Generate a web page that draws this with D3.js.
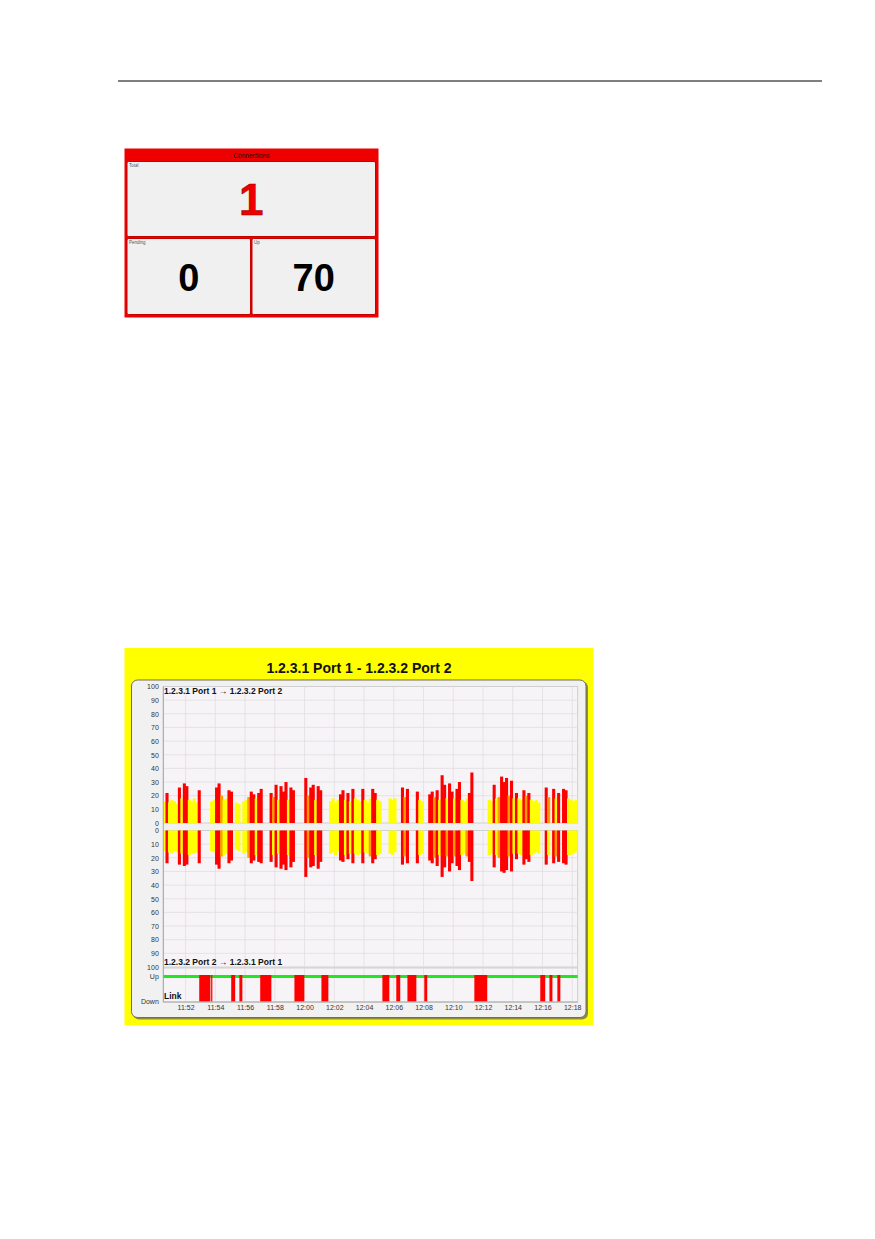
<!DOCTYPE html>
<html>
<head>
<meta charset="utf-8">
<script src="https://cdn.jsdelivr.net/npm/d3@7"></script>
<style>
  body { margin: 0; background: #fff; }
  svg { display: block; font-family: Arial, "Liberation Sans", sans-serif; }
</style>
</head>
<body>
<div id="page"></div>
<script>
// connection counters
var counterNames = ["Total", "Pending", "Up"];
var counterValues = [1, 0, 70];

// traffic samples, one every 10 s starting at 11:50:30 (percent of link capacity)
var sampleStart = "11:50:30";
var sampleStep = 10;
var fwdTraffic = [
  16, 22, 15, 17, 16, 14,
  26, 18, 29, 27, 17, 16,
  18, 15, 24, 0, 0, 0,
  0, 16, 17, 26, 29, 20,
  17, 18, 24, 23, 0, 15,
  14, 0, 16, 17, 19, 23,
  21, 18, 22, 25, 0, 0,
  0, 22, 19, 28, 17, 27,
  23, 30, 17, 26, 24, 0,
  0, 0, 0, 33, 20, 26,
  28, 17, 27, 24, 0, 0,
  0, 16, 18, 15, 17, 21,
  24, 17, 22, 16, 25, 18,
  17, 16, 25, 17, 15, 18,
  25, 22, 17, 16, 0, 0,
  0, 18, 17, 18, 0, 0,
  26, 19, 25, 0, 0, 0,
  23, 17, 16, 0, 0, 21,
  23, 19, 24, 17, 35, 28,
  18, 29, 23, 18, 25, 30,
  17, 16, 18, 22, 37, 0,
  0, 0, 0, 0, 0, 17,
  16, 28, 18, 19, 34, 30,
  33, 20, 31, 18, 22, 18,
  17, 24, 20, 22, 17, 16,
  17, 15, 0, 0, 26, 19,
  0, 25, 18, 22, 0, 25,
  24, 18, 17, 16, 17
];
var revTraffic = [
  15, 24, 16, 17, 15, 16,
  25, 17, 26, 25, 18, 17,
  17, 16, 24, 0, 0, 0,
  0, 15, 16, 25, 28, 19,
  18, 17, 24, 22, 0, 14,
  15, 0, 17, 16, 20, 24,
  22, 18, 23, 24, 0, 0,
  0, 23, 18, 27, 17, 28,
  25, 29, 18, 27, 23, 0,
  0, 0, 0, 34, 20, 27,
  26, 18, 28, 23, 0, 0,
  0, 17, 16, 18, 15, 22,
  23, 18, 21, 17, 24, 17,
  18, 17, 24, 16, 17, 19,
  24, 21, 18, 17, 0, 0,
  0, 17, 18, 16, 0, 0,
  25, 19, 24, 0, 0, 0,
  24, 18, 17, 0, 0, 22,
  24, 20, 26, 18, 34, 27,
  19, 30, 24, 19, 26, 29,
  18, 17, 19, 23, 37, 0,
  0, 0, 0, 0, 0, 18,
  17, 27, 18, 20, 30, 31,
  29, 19, 30, 17, 21, 17,
  18, 25, 21, 23, 18, 17,
  16, 17, 0, 0, 25, 18,
  0, 24, 19, 23, 0, 24,
  25, 18, 18, 17, 16
];

// link down periods
var linkDown = [
  ["11:52:55", "11:53:40"], ["11:53:43", "11:53:48"],
  ["11:55:04", "11:55:20"], ["11:55:37", "11:55:49"],
  ["11:57:01", "11:57:46"], ["11:59:19", "11:59:59"],
  ["12:01:08", "12:01:36"], ["12:05:14", "12:05:42"],
  ["12:06:10", "12:06:26"], ["12:06:55", "12:07:31"],
  ["12:08:03", "12:08:15"], ["12:11:25", "12:12:17"],
  ["12:15:51", "12:16:11"], ["12:16:28", "12:16:40"],
  ["12:17:00", "12:17:12"]
];

var timeRange = ["11:50:30", "12:18:22"];
var yTicks = [0, 10, 20, 30, 40, 50, 60, 70, 80, 90, 100];
var linkStates = ["Down", "Up"];

var parseTime = d3.timeParse("%Y-%m-%d %H:%M:%S");
function t(s) { return parseTime("2010-01-01 " + s); }

var W = 875, H = 1239;
var svg = d3.select("#page").append("svg")
    .attr("width", W)
    .attr("height", H);

svg.append("rect")
    .attr("width", W)
    .attr("height", H)
    .attr("fill", "#fff");

// page header rule
svg.append("line")
    .attr("x1", 118).attr("x2", 822)
    .attr("y1", 81).attr("y2", 81)
    .attr("stroke", "#555")
    .attr("stroke-width", 1.3);

// ---------- Connections widget ----------
var cw = svg.append("g");
cw.append("rect")
    .attr("x", 124.5).attr("y", 148.5)
    .attr("width", 254).attr("height", 169)
    .attr("fill", "#ee0000");
cw.append("text")
    .attr("x", 251.5).attr("y", 158)
    .attr("text-anchor", "middle")
    .attr("font-size", 6.5)
    .attr("fill", "#111")
    .text("Connections");

var boxes = [
  {x: 127, y: 161.5, w: 248.5, h: 75, size: 44, base: 215, color: "#ee0000"},
  {x: 127, y: 238.5, w: 123.5, h: 76, size: 38, base: 290.5, color: "#000"},
  {x: 252, y: 238.5, w: 123.5, h: 76, size: 38, base: 290.5, color: "#000"}
];
boxes.forEach(function(b, i) {
  cw.append("rect")
      .attr("x", b.x).attr("y", b.y)
      .attr("width", b.w).attr("height", b.h)
      .attr("rx", 1.5)
      .attr("fill", "#f0f0f0")
      .attr("stroke", "#c80000")
      .attr("stroke-width", 1);
  cw.append("text")
      .attr("x", b.x + 2).attr("y", b.y + 5)
      .attr("font-size", 4.5)
      .attr("fill", "#555")
      .text(counterNames[i]);
  cw.append("text")
      .attr("x", b.x + b.w / 2).attr("y", b.base)
      .attr("text-anchor", "middle")
      .attr("font-size", b.size)
      .attr("font-weight", "bold")
      .attr("fill", b.color)
      .attr("stroke", i == 0 ? "#990000" : "none")
      .attr("stroke-width", 0.6)
      .text(counterValues[i]);
});

// ---------- traffic chart ----------
var ch = svg.append("g");
ch.append("rect")
    .attr("x", 124.5).attr("y", 648)
    .attr("width", 469).attr("height", 377)
    .attr("fill", "#ffff00");
ch.append("text")
    .attr("x", 359).attr("y", 673)
    .attr("text-anchor", "middle")
    .attr("font-size", 14)
    .attr("font-weight", "bold")
    .attr("fill", "#111")
    .text("1.2.3.1 Port 1 - 1.2.3.2 Port 2");

// panel with shadow
ch.append("rect")
    .attr("x", 133).attr("y", 681.5)
    .attr("width", 455).attr("height", 338)
    .attr("rx", 6)
    .attr("fill", "#8c8c3a");
ch.append("rect")
    .attr("x", 131.5).attr("y", 680)
    .attr("width", 454.5).attr("height", 337.5)
    .attr("rx", 6)
    .attr("fill", "#f2f1f2")
    .attr("stroke", "#6e6e5a")
    .attr("stroke-width", 1);

var left = 163.3, right = 577.7;
var xScale = d3.scaleTime()
    .domain([t(timeRange[0]), t(timeRange[1])])
    .range([left, right]);
var yUp = d3.scaleLinear().domain([0, 100]).range([823, 686.5]);
var yDown = d3.scaleLinear().domain([0, 100]).range([830.5, 967]);
var yLink = d3.scalePoint().domain(linkStates).range([1001.5, 976.5]);
var color = d3.scaleThreshold()
    .domain([19, 21])
    .range(["#ffff00", "#ff9a00", "#ff0000"]);

// plot backgrounds
var panels = [[686.5, 823], [830.5, 967], [968, 1002]];
panels.forEach(function(r) {
  ch.append("rect")
      .attr("x", left).attr("y", r[0])
      .attr("width", right - left).attr("height", r[1] - r[0])
      .attr("fill", "#f7f4f7")
      .attr("stroke", "#c8c8c8")
      .attr("stroke-width", 0.8);
});

// grid
var grid = ch.append("g").attr("stroke", "#dedbe0").attr("stroke-width", 0.7);
[yUp, yDown].forEach(function(s) {
  grid.selectAll(null)
      .data(yTicks.slice(1, -1))
      .enter().append("line")
      .attr("x1", left).attr("x2", right)
      .attr("y1", d => s(d)).attr("y2", d => s(d));
});
var xTicks = xScale.ticks(d3.timeMinute.every(2));
panels.forEach(function(r) {
  grid.selectAll(null)
      .data(xTicks)
      .enter().append("line")
      .attr("x1", d => xScale(d)).attr("x2", d => xScale(d))
      .attr("y1", r[0]).attr("y2", r[1]);
});

// traffic bars (slight overlap so neighbouring samples touch)
function samples(vals) {
  var t0 = t(sampleStart);
  return vals.map(function(v, i) {
    return {t: d3.timeSecond.offset(t0, i * sampleStep), v: v};
  });
}
function barWidth(d) {
  return xScale(d3.timeSecond.offset(d.t, sampleStep)) - xScale(d.t) + 0.6;
}
ch.append("g").selectAll("rect")
    .data(samples(fwdTraffic).filter(d => d.v > 0))
    .enter().append("rect")
    .attr("x", d => xScale(d.t) - 0.3)
    .attr("y", d => yUp(d.v))
    .attr("width", barWidth)
    .attr("height", d => yUp(0) - yUp(d.v))
    .attr("fill", d => color(d.v));
ch.append("g").selectAll("rect")
    .data(samples(revTraffic).filter(d => d.v > 0))
    .enter().append("rect")
    .attr("x", d => xScale(d.t) - 0.3)
    .attr("y", yDown(0))
    .attr("width", barWidth)
    .attr("height", d => yDown(d.v) - yDown(0))
    .attr("fill", d => color(d.v));

// link state
ch.append("line")
    .attr("x1", left).attr("x2", right)
    .attr("y1", yLink("Up")).attr("y2", yLink("Up"))
    .attr("stroke", "#22e622")
    .attr("stroke-width", 3);
ch.append("g").selectAll("rect")
    .data(linkDown)
    .enter().append("rect")
    .attr("x", d => xScale(t(d[0])))
    .attr("y", yLink("Up") - 1.5)
    .attr("width", d => xScale(t(d[1])) - xScale(t(d[0])))
    .attr("height", yLink("Down") - yLink("Up") + 1.5)
    .attr("fill", "#ff0000");

// axes
var yAxisUp = d3.axisLeft(yUp).tickValues(yTicks).tickSize(0).tickPadding(4);
var yAxisDown = d3.axisLeft(yDown).tickValues(yTicks).tickSize(0).tickPadding(4);
var linkAxis = d3.axisLeft(yLink).tickSize(0).tickPadding(4);
var xAxis = d3.axisBottom(xScale)
    .ticks(d3.timeMinute.every(2))
    .tickFormat(d3.timeFormat("%H:%M"))
    .tickSize(0).tickPadding(4);

function styleAxis(g) {
  g.attr("color", "#333");
  g.select(".domain").remove();
  g.selectAll("text")
      .attr("font-size", 7)
      .attr("font-family", "Arial, 'Liberation Sans', sans-serif")
      .attr("fill", "#333");
}
ch.append("g").attr("transform", `translate(${left - 0.5},0)`).call(yAxisUp).call(styleAxis);
ch.append("g").attr("transform", `translate(${left - 0.5},0)`).call(yAxisDown).call(styleAxis);
ch.append("g").attr("transform", `translate(${left - 0.5},0)`).call(linkAxis).call(styleAxis);
ch.append("g").attr("transform", `translate(0,1001.5)`).call(xAxis).call(styleAxis);

// axis lines
ch.append("line")
    .attr("x1", left).attr("x2", left)
    .attr("y1", 686.5).attr("y2", 1002)
    .attr("stroke", "#999").attr("stroke-width", 0.8);
ch.append("line")
    .attr("x1", left).attr("x2", right)
    .attr("y1", 1002).attr("y2", 1002)
    .attr("stroke", "#999").attr("stroke-width", 0.8);

// panel labels
ch.append("text")
    .attr("x", 164).attr("y", 693.5)
    .attr("font-size", 8.5).attr("font-weight", "bold").attr("fill", "#111")
    .text("1.2.3.1 Port 1 \u2192 1.2.3.2 Port 2");
ch.append("text")
    .attr("x", 164).attr("y", 965)
    .attr("font-size", 8.5).attr("font-weight", "bold").attr("fill", "#111")
    .text("1.2.3.2 Port 2 \u2192 1.2.3.1 Port 1");
ch.append("text")
    .attr("x", 164).attr("y", 999)
    .attr("font-size", 8.5).attr("font-weight", "bold").attr("fill", "#111")
    .text("Link");
</script>
</body>
</html>
